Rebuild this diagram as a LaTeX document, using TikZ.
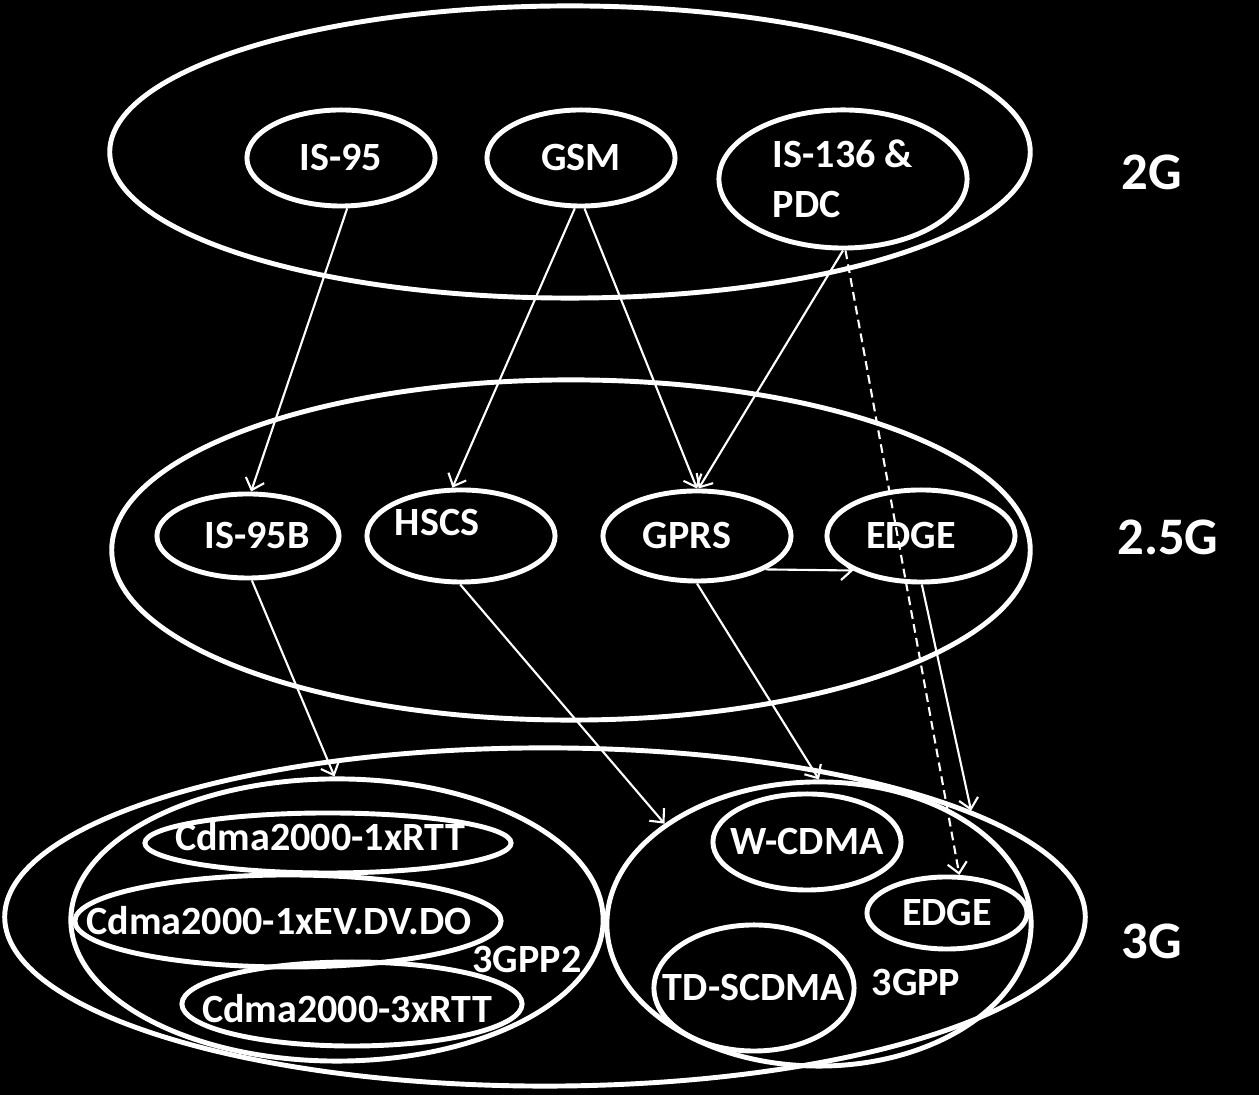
\documentclass[tikz,border=0pt]{standalone}
\usepackage{fontspec}
\setmainfont{Carlito}
\usetikzlibrary{shapes.geometric,arrows.meta}
\begin{document}
\begin{tikzpicture}[x=0.01cm,y=-0.01cm,
  every node/.style={font=\fontsize{11.4}{14.2}\selectfont\bfseries, text=white},
  ell/.style={ellipse, draw=white, line width=1.4pt, inner sep=0pt},
  conn/.style={draw=white, line width=0.6pt, -{Straight Barb[length=3pt,width=5.5pt]}},
  dashline/.style={dash pattern=on 2.5pt off 1.5pt},
  genlabel/.style={font=\fontsize{15}{18}\selectfont\bfseries}
]
\fill[black] (0,0) rectangle (1259,1095);
\useasboundingbox (0,0) rectangle (1259,1095);

% 2G
\node[ell, minimum width=9.2cm, minimum height=2.92cm] (g2) at (570,152) {};
\node[ell, minimum width=1.88cm, minimum height=0.96cm, label={center:IS-95}] (is95) at (341,158) {};
\node[ell, minimum width=1.88cm, minimum height=0.96cm, label={center:GSM}] (gsm) at (581,158) {};
\node[ell, minimum width=2.48cm, minimum height=1.38cm, label={[align=left]center:{IS-136 \&\\PDC}}] (is136) at (843,179) {};
\node[genlabel] (l2g) at (1152,172) {2G};

% 2.5G
\node[ell, minimum width=9.18cm, minimum height=3.40cm] (g25) at (571,550) {};
\node[ell, minimum width=1.82cm, minimum height=0.84cm, label={[xshift=0.09cm]center:IS-95B}] (is95b) at (248,536) {};
\node[ell, minimum width=1.88cm, minimum height=0.92cm, label={[xshift=-0.24cm,yshift=0.13cm]center:HSCS}] (hscs) at (461,536) {};
\node[ell, minimum width=1.88cm, minimum height=0.90cm, label={[xshift=-0.1cm]center:GPRS}] (gprs) at (697,536) {};
\node[ell, minimum width=1.88cm, minimum height=0.92cm, label={[xshift=-0.1cm]center:EDGE}] (edge) at (921,536) {};
\node[genlabel] (l25g) at (1168,537) {2.5G};

% 3G
\node[ell, minimum width=10.80cm, minimum height=3.38cm] (g3) at (545,917) {};
\node[ell, minimum width=5.32cm, minimum height=2.82cm] (gpp2) at (337,920) {};
\node[ell, minimum width=3.66cm, minimum height=0.60cm, label={[xshift=-0.08cm,yshift=0.06cm]center:Cdma2000-1xRTT}] (c1) at (328,843) {};
\node[ell, minimum width=4.26cm, minimum height=0.92cm, label={[xshift=-0.09cm]center:Cdma2000-1xEV.DV.DO}] (c2) at (288,921) {};
\node[ell, minimum width=3.40cm, minimum height=0.84cm, label={[xshift=-0.05cm,yshift=-0.05cm]center:Cdma2000-3xRTT}] (c3) at (352,1004) {};
\node (l3gpp2) at (527,960) {3GPP2};
\node[ell, minimum width=4.24cm, minimum height=2.84cm] (gpp) at (819,924) {};
\node[ell, minimum width=1.88cm, minimum height=0.96cm, label={center:W-CDMA}] (wcdma) at (807,842) {};
\node[ell, minimum width=1.60cm, minimum height=0.72cm, label={center:EDGE}] (edge3) at (947,913) {};
\node[ell, minimum width=2.00cm, minimum height=1.26cm, label={center:TD-SCDMA}] (td) at (754,988) {};
\node (l3gpp) at (916,983) {3GPP};
\node[genlabel] (l3g) at (1152,941) {3G};

% connectors
\draw[conn] (is95.-83) -- (is95b.86);
\draw[conn] (gsm.-97) -- (hscs.100);
\draw[conn] (gsm.-86) -- (gprs.90);
\draw[conn] (is136.-90) -- (gprs.88);
\draw[conn,dashline] (is136.-88) -- (edge3.72);
\draw[conn] (gprs.-26) -- (edge.-153);
\draw[conn] (is95b.-85) -- (gpp2.91);
\draw[conn] (hscs.-91) -- (gpp.147);
\draw[conn] (gprs.-90) -- (gpp.90);
\draw[conn] (edge.-89) -- (g3.14);
\end{tikzpicture}
\end{document}
